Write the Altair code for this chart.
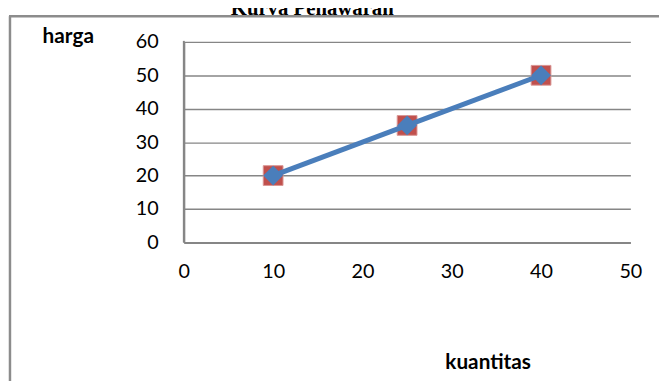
import altair as alt
import pandas as pd

# data
kuantitas = [10, 25, 40]
harga = [20, 35, 50]
x_ticks = [0, 10, 20, 30, 40, 50]
y_ticks = [0, 10, 20, 30, 40, 50, 60]
title_text = "Kurva Penawaran"
x_title = "kuantitas"
y_title = "harga"

df = pd.DataFrame({"kuantitas": kuantitas, "harga": harga})

W, H = 452, 203
GRAY = "#868686"

x_enc = alt.X("kuantitas:Q", scale=alt.Scale(domain=[0, 50], nice=False),
              axis=alt.Axis(values=x_ticks, title=None, grid=False, tickSize=0,
                            labelPadding=20, labelFontSize=20, labelFont="Lato",
                            labelColor="black", domain=True, domainColor=GRAY, domainWidth=2,
                            labelFlush=False, labelOverlap=False))
y_enc = alt.Y("harga:Q", scale=alt.Scale(domain=[0, 60], nice=False),
              axis=alt.Axis(values=y_ticks, tickCount=7, title=None, grid=True, gridColor=GRAY,
                            gridWidth=1.5, tickSize=0, labelPadding=26,
                            labelFontSize=20, labelFont="Lato", labelColor="black",
                            domain=True, domainColor=GRAY, domainWidth=2,
                            labelOverlap=False, labelFlush=False))

base = alt.Chart(df).encode(x=x_enc, y=y_enc)

squares = base.mark_point(shape="square", filled=True, size=400, color="#c0504d",
                          stroke="#d99694", strokeWidth=1, opacity=1)
line = base.mark_line(color="#4a7ebb", strokeWidth=5)
diamonds = base.mark_point(shape="diamond", filled=True, size=400, color="#4a7ebb",
                           opacity=1)

one = alt.Data(values=[{}])

title = alt.Chart(one).mark_text(text=title_text, font="Liberation Serif", fontWeight="bold",
                                 fontSize=21, baseline="alphabetic", align="center").encode(
    x=alt.value(130), y=alt.value(-27))
ylab = alt.Chart(one).mark_text(text=y_title, font="Lato", fontWeight="bold", fontSize=21,
                                baseline="middle", align="center").encode(
    x=alt.value(-117), y=alt.value(-5))
xlab = alt.Chart(one).mark_text(text=x_title, font="Lato", fontWeight="bold", fontSize=21,
                                baseline="middle", align="center").encode(
    x=alt.value(308), y=alt.value(325))
left_axis = alt.Chart(one).mark_rule(color=GRAY, strokeWidth=2).encode(
    x=alt.value(0), y=alt.value(-1), y2=alt.value(H))
border_left = alt.Chart(one).mark_rule(color="#8c8c8c", strokeWidth=2.5).encode(
    x=alt.value(-176), y=alt.value(-26), y2=alt.value(345))
border_top = alt.Chart(one).mark_rule(color="#8c8c8c", strokeWidth=2.5).encode(
    x=alt.value(-177), x2=alt.value(485), y=alt.value(-26))

chart = alt.layer(squares, line, diamonds, left_axis, title, ylab, xlab,
                  border_left, border_top).properties(
    width=W, height=H,
    autosize=alt.AutoSizeParams(type="none"),
    padding={"left": 178, "top": 32, "right": 29, "bottom": 138},
).configure_view(stroke=None)

chart.save("out.html", embed_options={"renderer": "svg", "actions": False})
